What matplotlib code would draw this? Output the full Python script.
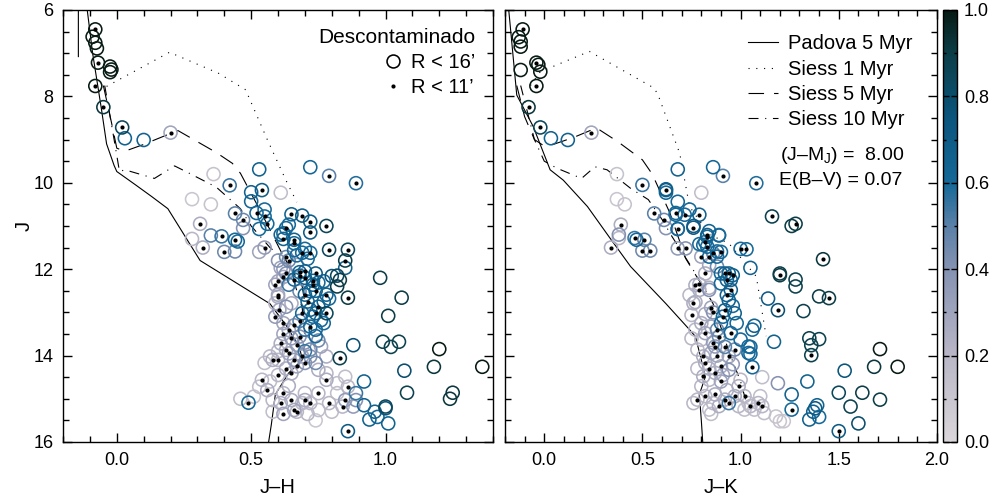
import numpy as np
import matplotlib
matplotlib.use('Agg')
import matplotlib.pyplot as plt
from matplotlib.colors import LinearSegmentedColormap, Normalize
from matplotlib.lines import Line2D
from matplotlib.ticker import MultipleLocator
from matplotlib.cm import ScalarMappable

plt.rcParams['font.family'] = ['Liberation Sans', 'DejaVu Sans']
plt.rcParams['mathtext.fontset'] = 'custom'
plt.rcParams['mathtext.rm'] = 'Liberation Sans'
plt.rcParams['mathtext.it'] = 'Liberation Sans'

# ---------------- J x (J-H) ----------------
jh_col = [
    -0.08, -0.09, -0.08, -0.074, -0.07, -0.025, -0.02, -0.025, -0.08, -0.05,
    0.02, 0.03, 0.10, 0.20, 0.36, 0.53, 0.72, 0.79, 0.89, 0.42,
    0.28, 0.35, 0.50, 0.50, 0.54, 0.61, 0.44, 0.47, 0.47, 0.52,
    0.55, 0.55, 0.53, 0.56, 0.65, 0.69, 0.72, 0.72, 0.78, 0.63,
    0.61, 0.64, 0.31, 0.28, 0.35, 0.39, 0.32, 0.40, 0.44, 0.45,
    0.44, 0.53, 0.55, 0.66, 0.66, 0.69, 0.72, 0.79, 0.86, 0.85,
    0.85, 0.82, 0.83, 0.82, 0.86, 0.78, 0.79, 0.74, 0.73, 0.74,
    0.70, 0.68, 0.66, 0.64, 0.60, 0.61, 0.59, 0.62, 0.64, 0.67,
    0.98, 1.06, 1.01, 0.99, 1.02, 1.05, 0.88, 0.83, 1.20, 1.36,
    1.18, 1.07, 1.08, 1.25, 1.24, 0.92, 0.92, 0.96, 0.94, 0.97,
    1.00, 1.00, 1.01, 0.86, 0.89, 0.49, 0.46,
    0.62, 0.62, 0.66, 0.67, 0.70, 0.71, 0.63, 0.62, 0.63, 0.60,
    0.68, 0.70, 0.73, 0.75, 0.77, 0.78, 0.72, 0.70, 0.60, 0.68, 0.80,
    0.605, 0.59, 0.63, 0.65, 0.60, 0.69, 0.72, 0.74, 0.75, 0.76,
    0.72, 0.70, 0.74, 0.68, 0.64, 0.62, 0.59, 0.74, 0.75, 0.70,
    0.72, 0.76, 0.61, 0.63, 0.57, 0.58, 0.55, 0.54, 0.53, 0.51,
    0.56, 0.58, 0.62, 0.65, 0.66, 0.69, 0.65, 0.67, 0.70, 0.69,
    0.72, 0.74, 0.75, 0.78, 0.78, 0.78, 0.82, 0.85, 0.86, 0.82,
    0.75, 0.72, 0.70, 0.75, 0.74, 0.79, 0.85, 0.88, 0.89, 0.84,
    0.67, 0.70, 0.61,
    0.62, 0.65, 0.66, 0.64, 0.66, 0.63, 0.60, 0.68, 0.67, 0.60,
    0.57, 0.64, 0.58, 0.62, 0.71, 0.80, 0.60, 0.70, 0.73, 0.77, 0.77, 0.71,
]
jh_mag = [
    6.45, 6.62, 6.76, 6.89, 7.22, 7.31, 7.38, 7.44, 7.76, 8.25,
    8.72, 8.97, 9.01, 8.84, 9.80, 9.69, 9.64, 9.84, 10.01, 10.06,
    10.38, 10.50, 10.22, 10.43, 10.17, 10.23, 10.71, 10.86, 11.05, 10.70,
    10.62, 10.78, 11.07, 10.95, 10.73, 10.76, 10.90, 11.15, 11.00, 11.05,
    11.20, 10.97, 10.95, 11.30, 11.22, 11.24, 11.50, 11.60, 11.32, 11.36,
    11.59, 11.60, 11.50, 11.40, 11.56, 11.62, 11.62, 11.55, 11.55, 11.80,
    11.97, 12.15, 12.25, 12.40, 12.66, 13.02, 12.68, 12.50, 12.27, 12.10,
    12.05, 12.15, 12.24, 12.36, 11.80, 11.97, 12.36, 12.18, 11.80, 11.90,
    12.20, 12.66, 13.08, 13.68, 13.80, 13.68, 13.76, 14.06, 13.85, 14.26,
    14.26, 14.35, 14.86, 14.86, 15.00, 14.60, 15.15, 15.30, 15.48, 15.42,
    15.22, 15.18, 15.57, 15.75, 14.87, 15.09, 15.00,
    11.17, 11.30, 11.32, 11.68, 11.53, 11.76, 11.72, 12.00, 12.10, 12.28,
    12.07, 12.20, 12.36, 12.31, 12.28, 12.59, 12.51, 12.59, 12.59, 12.51, 12.16,
    12.94, 12.79, 12.87, 12.79, 12.64, 13.02, 12.94, 13.02, 12.87, 13.18,
    13.33, 13.40, 13.40, 13.56, 13.41, 13.25, 13.10, 13.55, 13.65, 13.70,
    13.86, 13.79, 13.72, 13.87, 14.02, 14.10, 14.17, 14.56, 14.72, 14.95,
    14.80, 15.03, 14.87, 15.03, 15.26, 15.10, 14.41, 14.25, 14.17, 14.02,
    14.02, 14.17, 14.33, 14.41, 14.02, 14.56, 14.64, 14.49, 14.72, 14.87,
    14.87, 15.10, 15.03, 15.26, 15.50, 15.10, 15.03, 15.18, 15.03, 15.18,
    15.30, 14.87, 15.10,
    13.50, 13.60, 13.30, 13.95, 14.10, 14.30, 14.45, 13.20, 13.75, 13.90,
    14.60, 14.70, 15.30, 15.35, 15.35, 15.30, 14.10, 13.90, 13.10, 12.75, 13.25, 12.75,
]
jh_prob = [
    1, 1, 1, 1, 1, 1, 1, 1, 1, 0.92,
    0.85, 0.65, 0.65, 0.3, 0.12, 0.65, 0.62, 0.5, 0.58, 0.55,
    0.1, 0.12, 0.65, 0.62, 0.68, 0.15, 0.5, 0.45, 0.4, 0.62,
    0.6, 0.6, 0.6, 0.6, 0.65, 0.7, 0.7, 0.7, 0.85, 0.6,
    0.65, 0.6, 0.25, 0.2, 0.5, 0.55, 0.25, 0.45, 0.6, 0.6,
    0.45, 0.3, 0.35, 0.6, 0.6, 0.6, 0.6, 0.85, 0.85, 0.9,
    0.65, 0.85, 0.9, 0.9, 0.9, 0.85, 0.6, 0.65, 0.65, 0.7,
    0.65, 0.65, 0.6, 0.55, 0.4, 0.3, 0.3, 0.3, 0.45, 0.3,
    0.9, 0.9, 0.9, 0.88, 0.88, 0.88, 0.78, 0.88, 1, 1,
    0.92, 0.8, 0.88, 0.92, 0.92, 0.65, 0.65, 0.65, 0.65, 0.6,
    0.75, 0.85, 0.65, 0.7, 0.55, 0.6, 0.15,
    0.65, 0.65, 0.65, 0.6, 0.6, 0.6, 0.45, 0.35, 0.4, 0.3,
    0.6, 0.65, 0.65, 0.6, 0.6, 0.65, 0.6, 0.65, 0.3, 0.45, 0.75,
    0.3, 0.2, 0.4, 0.25, 0.25, 0.6, 0.65, 0.65, 0.65, 0.6,
    0.6, 0.55, 0.6, 0.4, 0.3, 0.3, 0.35, 0.6, 0.45, 0.4,
    0.45, 0.3, 0.25, 0.25, 0.2, 0.25, 0.15, 0.2, 0.15, 0.12,
    0.25, 0.2, 0.2, 0.25, 0.3, 0.2, 0.25, 0.3, 0.4, 0.3,
    0.4, 0.45, 0.25, 0.2, 0.25, 0.25, 0.15, 0.15, 0.2, 0.15,
    0.2, 0.2, 0.25, 0.15, 0.1, 0.2, 0.35, 0.35, 0.4, 0.2,
    0.2, 0.2, 0.25,
    0.3, 0.35, 0.4, 0.3, 0.35, 0.25, 0.2, 0.5, 0.35, 0.2,
    0.15, 0.25, 0.15, 0.3, 0.2, 0.15, 0.2, 0.55, 0.6, 0.65, 0.6, 0.65,
]
# 1 = also inside R < 11'
jh_core = [
    1, 0, 0, 0, 1, 0, 0, 0, 1, 1,
    1, 0, 0, 1, 0, 0, 0, 1, 1, 1,
    0, 0, 0, 0, 1, 0, 1, 1, 0, 1,
    0, 1, 0, 1, 1, 1, 1, 1, 1, 1,
    0, 0, 1, 0, 0, 1, 1, 1, 1, 0,
    0, 0, 1, 1, 0, 1, 1, 1, 1, 1,
    0, 0, 0, 0, 1, 1, 0, 1, 1, 1,
    1, 1, 1, 0, 0, 0, 1, 1, 1, 0,
    0, 0, 0, 0, 0, 0, 0, 1, 0, 0,
    0, 0, 0, 0, 0, 0, 0, 0, 0, 0,
    0, 0, 0, 1, 0, 1, 0,
    0, 1, 1, 0, 0, 0, 1, 0, 1, 1,
    1, 1, 1, 0, 0, 1, 0, 1, 1, 0, 0,
    1, 0, 0, 0, 1, 1, 0, 1, 1, 0,
    1, 0, 0, 1, 1, 1, 1, 0, 0, 0,
    0, 0, 1, 1, 0, 1, 0, 1, 0, 0,
    1, 0, 1, 1, 1, 0, 1, 1, 1, 1,
    0, 0, 0, 0, 0, 1, 0, 0, 1, 0,
    1, 1, 1, 0, 0, 1, 1, 0, 0, 1,
    1, 0, 1,
    1, 1, 1, 1, 1, 1, 1, 1, 1, 0,
    0, 0, 0, 1, 0, 0, 1, 0, 0, 0, 0, 1,
]

# ---------------- J x (J-K) ----------------
jk_col = [
    -0.11, -0.13, -0.12, -0.12, -0.04, -0.03, -0.02, -0.12, -0.04, -0.08,
    -0.02, 0.034, 0.12, 0.24, 0.37, 0.68, 0.86, 0.91, 1.08, 0.50,
    0.37, 0.41, 0.62, 0.62, 0.62, 0.80, 0.56, 0.61, 0.62, 0.68,
    0.67, 0.67, 0.68, 0.715, 0.74, 0.79, 0.76, 0.76, 0.68, 0.84,
    0.83, 0.89, 0.39, 0.38, 0.38, 0.46, 0.51, 0.50, 0.54, 0.47,
    0.34, 0.68, 0.79, 0.83, 0.88, 1.00, 1.03, 1.16, 1.26, 1.28,
    1.05, 1.42, 1.20, 1.20, 1.28, 1.28, 1.40, 1.45, 1.14, 1.19,
    1.32, 1.07, 1.17, 1.35, 1.36, 1.40, 1.36, 1.71, 1.80, 1.68,
    1.53, 1.71, 1.62, 1.50, 1.56, 1.60, 1.50, 1.34, 1.39, 1.37,
    1.35, 1.40, 1.38, 1.26, 1.26, 1.19, 1.11, 1.06, 1.05, 1.05,
    1.20, 1.22, 1.12, 1.18,
    0.77, 0.76, 0.75, 0.77, 0.84, 0.85, 0.82, 0.80, 0.77, 0.80,
    0.82, 0.85, 0.78, 0.81, 0.82, 0.85, 0.87, 0.89, 0.90, 0.92,
    0.94, 0.95, 0.95, 0.90, 0.92, 0.97, 0.98, 0.95, 0.97, 0.94,
    0.90, 0.87, 0.84, 0.81, 0.80, 0.78, 0.82, 0.86, 0.89, 0.92,
    0.94, 0.97, 0.99, 1.00, 1.02, 1.04, 1.05, 1.09, 1.10, 1.11,
    1.07, 1.02, 0.99, 0.94, 1.04, 1.04, 1.06, 1.00, 0.79, 0.88,
    0.83, 0.82, 0.81, 0.89, 0.90, 0.86, 0.84, 0.80, 0.84, 0.82,
    0.88, 0.90, 0.94, 0.96, 0.93, 0.79, 0.84, 0.72,
    0.86, 0.88, 0.86, 0.88, 0.84, 0.90, 0.87, 0.93, 0.84, 0.76,
    0.92, 0.91, 0.93, 0.96, 0.78, 0.75, 0.74, 0.91, 0.96, 0.85,
]
jk_mag = [
    6.45, 6.63, 6.73, 6.85, 7.22, 7.27, 7.43, 7.39, 7.76, 8.25,
    8.72, 8.97, 9.01, 8.84, 9.80, 9.69, 9.64, 9.84, 10.01, 10.05,
    10.38, 10.50, 10.15, 10.23, 10.17, 10.23, 10.71, 10.86, 11.05, 10.44,
    10.74, 10.70, 11.07, 10.74, 10.62, 10.74, 11.00, 11.04, 11.07, 11.12,
    11.25, 11.22, 10.97, 11.20, 11.28, 11.28, 11.32, 11.57, 11.57, 11.32,
    11.50, 11.52, 11.42, 11.48, 11.59, 11.53, 11.54, 10.78, 11.00, 10.95,
    11.97, 11.77, 12.14, 12.10, 12.24, 12.40, 12.63, 12.67, 12.68, 12.95,
    12.97, 13.31, 13.68, 13.60, 13.76, 13.62, 13.99, 13.85, 14.26, 14.26,
    14.35, 15.02, 14.86, 14.86, 15.18, 15.57, 15.75, 14.60, 15.15, 15.30,
    15.48, 15.42, 15.22, 15.25, 14.90, 14.64, 14.50, 14.27, 13.96, 13.80,
    15.52, 15.52, 15.33, 15.41,
    12.37, 12.79, 13.06, 12.76, 12.48, 12.89, 13.04, 13.25, 13.40, 13.63,
    13.48, 13.33, 13.86, 14.02, 14.17, 13.94, 13.79, 13.56, 13.25, 12.95,
    12.72, 12.48, 12.25, 12.33, 12.10, 13.02, 13.25, 13.48, 13.86, 14.02,
    14.25, 14.40, 14.56, 14.48, 14.71, 15.02, 14.94, 15.10, 15.17, 15.02,
    15.10, 14.94, 14.71, 14.56, 14.94, 15.10, 15.17, 15.10, 14.94, 15.17,
    15.25, 15.25, 15.17, 14.33, 13.94, 13.79, 13.40, 13.63, 12.48, 11.71,
    11.21, 11.37, 11.44, 11.21, 11.60, 11.63, 11.71, 11.71, 11.90, 12.10,
    11.94, 12.10, 12.10, 12.14, 12.25, 12.35, 12.43, 11.52,
    13.00, 13.40, 13.70, 14.00, 14.30, 14.60, 14.90, 14.80, 15.25, 15.10,
    13.80, 13.10, 12.60, 12.85, 14.30, 13.60, 12.60, 14.45, 14.20, 15.35,
]
jk_prob = [
    1, 1, 1, 1, 1, 1, 1, 1, 1, 0.92,
    0.85, 0.65, 0.65, 0.3, 0.12, 0.65, 0.62, 0.5, 0.58, 0.55,
    0.1, 0.12, 0.65, 0.62, 0.68, 0.15, 0.5, 0.45, 0.4, 0.62,
    0.6, 0.6, 0.6, 0.6, 0.6, 0.65, 0.7, 0.7, 0.6, 0.65,
    0.6, 0.6, 0.25, 0.4, 0.2, 0.55, 0.5, 0.45, 0.45, 0.6,
    0.25, 0.35, 0.6, 0.6, 0.6, 0.6, 0.6, 0.88, 0.9, 0.9,
    0.65, 0.92, 0.9, 0.9, 0.88, 0.88, 0.9, 0.9, 0.7, 0.78,
    0.88, 0.65, 0.65, 0.88, 0.88, 0.88, 0.88, 1, 1, 0.92,
    0.75, 0.9, 0.9, 0.85, 0.88, 0.8, 0.7, 0.65, 0.65, 0.65,
    0.65, 0.6, 0.7, 0.6, 0.65, 0.4, 0.15, 0.6, 0.6, 0.6,
    0.1, 0.1, 0.15, 0.12,
    0.25, 0.25, 0.2, 0.25, 0.4, 0.3, 0.25, 0.25, 0.2, 0.2,
    0.3, 0.3, 0.2, 0.25, 0.25, 0.3, 0.35, 0.45, 0.6, 0.65,
    0.65, 0.65, 0.65, 0.6, 0.65, 0.65, 0.6, 0.6, 0.45, 0.3,
    0.25, 0.25, 0.2, 0.25, 0.2, 0.2, 0.2, 0.2, 0.25, 0.25,
    0.55, 0.25, 0.25, 0.2, 0.2, 0.15, 0.2, 0.2, 0.15, 0.2,
    0.15, 0.15, 0.2, 0.4, 0.6, 0.6, 0.6, 0.6, 0.25, 0.6,
    0.65, 0.6, 0.6, 0.6, 0.6, 0.45, 0.6, 0.3, 0.3, 0.25,
    0.45, 0.6, 0.65, 0.65, 0.65, 0.25, 0.25, 0.4,
    0.4, 0.45, 0.35, 0.3, 0.25, 0.3, 0.25, 0.25, 0.15, 0.2,
    0.5, 0.6, 0.65, 0.6, 0.2, 0.2, 0.2, 0.3, 0.35, 0.15,
]
jk_core = [
    1, 0, 0, 0, 1, 0, 0, 0, 1, 1,
    1, 0, 0, 1, 0, 0, 0, 1, 1, 1,
    0, 0, 0, 0, 1, 0, 1, 1, 0, 0,
    0, 1, 0, 1, 0, 1, 0, 1, 1, 0,
    1, 0, 1, 0, 0, 1, 1, 1, 1, 0,
    1, 1, 0, 1, 0, 1, 1, 1, 0, 1,
    0, 1, 1, 0, 0, 0, 0, 1, 0, 1,
    0, 0, 0, 0, 0, 0, 1, 0, 0, 0,
    0, 0, 0, 0, 0, 0, 1, 0, 0, 0,
    0, 0, 0, 1, 0, 0, 0, 1, 0, 0,
    0, 0, 0, 0,
    1, 1, 1, 0, 0, 1, 0, 1, 0, 0,
    1, 0, 0, 1, 1, 0, 1, 1, 0, 1,
    0, 1, 0, 0, 1, 0, 0, 1, 1, 1,
    1, 1, 0, 1, 0, 1, 1, 0, 1, 1,
    1, 1, 1, 0, 1, 0, 1, 1, 0, 1,
    0, 0, 0, 0, 0, 0, 0, 0, 1, 0,
    1, 1, 0, 0, 1, 1, 1, 1, 0, 1,
    0, 0, 1, 1, 1, 1, 0, 1,
    1, 1, 1, 1, 1, 1, 1, 0, 0, 0,
    1, 1, 1, 0, 0, 0, 0, 0, 0, 0,
]

# ---------------- isocronas ----------------
pad_jh = [-0.143, -0.143, -0.12, -0.09, -0.057, -0.038, -0.01, 0.0, 0.07, 0.13,
          0.19, 0.24, 0.31, 0.44, 0.57, 0.63, 0.68, 0.69, 0.64, 0.59, 0.575, 0.56]
pad_jh_j = [7.08, 5.5, 5.5, 7.0, 8.3, 9.1, 9.6, 9.74, 10.05, 10.32,
            10.6, 11.1, 11.8, 12.3, 12.8, 13.3, 13.8, 14.1, 14.4, 14.9, 15.6, 16.2]
s1_jh = [-0.038, 0.196, 0.38, 0.48, 0.49, 0.56, 0.63, 0.67]
s1_jh_j = [7.77, 6.98, 7.47, 7.85, 8.0, 9.0, 9.95, 10.45]
s5_jh = [-0.05, -0.02, 0.0, 0.03, 0.097, 0.227, 0.37, 0.43, 0.46, 0.53, 0.62, 0.66, 0.69, 0.70]
s5_jh_j = [7.75, 8.6, 9.2, 9.27, 9.12, 8.79, 9.3, 9.55, 9.78, 10.6, 11.7, 12.1, 12.4, 12.8]
s10_jh = [-0.045, -0.01, 0.01, 0.03, 0.14, 0.215, 0.26, 0.37, 0.46, 0.50, 0.57, 0.63, 0.66, 0.69, 0.70]
s10_jh_j = [7.75, 9.0, 9.74, 9.7, 9.9, 9.61, 9.75, 10.1, 10.6, 11.0, 11.5, 11.8, 12.3, 12.9, 13.5]

pad_jk = [-0.185, -0.14, -0.056, 0.03, 0.097, 0.22, 0.33, 0.44, 0.62, 0.74, 0.77,
          0.80, 0.82, 0.79, 0.80, 0.81]
pad_jk_j = [5.8, 7.97, 8.7, 9.7, 9.94, 10.55, 11.25, 11.94, 12.8, 13.4, 13.56,
            14.1, 14.5, 14.9, 15.5, 16.2]
s1_jk = [-0.07, -0.02, 0.23, 0.56, 0.58, 0.69, 0.74, 0.84, 0.94, 1.08, 1.13]
s1_jk_j = [7.75, 7.43, 6.96, 7.81, 7.97, 9.32, 10.55, 11.2, 11.4, 12.17, 13.55]
s5_jk = [-0.14, -0.1, -0.05, 0.0, 0.054, 0.15, 0.266, 0.375, 0.5, 0.55, 0.60, 0.64, 0.72, 0.78, 0.84]
s5_jk_j = [7.75, 8.47, 9.0, 9.15, 9.1, 8.95, 8.73, 9.05, 9.47, 9.8, 10.3, 10.7, 11.75, 12.2, 12.6]
s10_jk = [-0.12, -0.05, 0.0, 0.063, 0.19, 0.258, 0.32, 0.44, 0.53, 0.60, 0.65, 0.75, 0.86, 0.94, 1.0, 1.03]
s10_jk_j = [7.75, 9.0, 9.5, 9.66, 9.9, 9.63, 9.7, 10.13, 10.39, 10.85, 11.24, 11.95, 12.8, 13.9, 14.6, 15.1]

# mapa de cores da probabilidade de pertinencia
cmap = LinearSegmentedColormap.from_list('memb', [
    (0.0, '#dad6da'), (0.2, '#b9b6c6'), (0.4, '#8592b2'), (0.5, '#5a80a8'),
    (0.6, '#156898'), (0.75, '#0b557e'), (0.9, '#0c3e48'), (1.0, '#071a14')])
norm = Normalize(0, 1)

FS = 13      # rotulos dos ticks
FS_LEG = 14.5


def draw_stars(ax, col, mag, prob, core):
    col, mag, prob, core = map(np.asarray, (col, mag, prob, core))
    assert len(col) == len(mag) == len(prob) == len(core)
    order = np.argsort(prob, kind='stable')
    ax.scatter(col[order], mag[order], s=88, facecolors='none',
               edgecolors=cmap(norm(prob[order])), linewidths=1.15, zorder=3)
    m = core.astype(bool)
    ax.scatter(col[m], mag[m], s=9, c='k', lw=0, zorder=4)


def style_axis(ax, xmaj):
    ax.set_ylim(16, 6)
    ax.xaxis.set_major_locator(MultipleLocator(xmaj))
    ax.xaxis.set_minor_locator(MultipleLocator(0.1))
    ax.yaxis.set_major_locator(MultipleLocator(2))
    ax.yaxis.set_minor_locator(MultipleLocator(0.5))
    ax.tick_params(which='both', direction='in', top=True, right=True,
                   labelsize=FS, width=1.0)
    ax.tick_params(which='major', length=6.5, pad=7)
    ax.tick_params(which='minor', length=4.5)
    for sp in ax.spines.values():
        sp.set_linewidth(1.0)


fig = plt.figure(figsize=(9.96, 4.97), dpi=100)
ax1 = fig.add_axes([0.0633, 0.1107, 0.4317, 0.8693])
ax2 = fig.add_axes([0.507, 0.1107, 0.4337, 0.8693])
cax = fig.add_axes([0.9468, 0.1107, 0.0141, 0.8693])

lw = 0.8
for ax, iso in ((ax1, (pad_jh, pad_jh_j, s1_jh, s1_jh_j, s5_jh, s5_jh_j, s10_jh, s10_jh_j)),
                (ax2, (pad_jk, pad_jk_j, s1_jk, s1_jk_j, s5_jk, s5_jk_j, s10_jk, s10_jk_j))):
    ax.plot(iso[0], iso[1], color='k', lw=lw, label='Padova 5 Myr')
    ax.plot(iso[2], iso[3], color='k', lw=lw, ls=(0, (1, 6)), label='Siess 1 Myr')
    ax.plot(iso[4], iso[5], color='k', lw=lw, ls=(0, (14, 9)), label='Siess 5 Myr')
    ax.plot(iso[6], iso[7], color='k', lw=lw, ls=(0, (9, 6, 1, 6)), label='Siess 10 Myr')

draw_stars(ax1, jh_col, jh_mag, jh_prob, jh_core)
draw_stars(ax2, jk_col, jk_mag, jk_prob, jk_core)

ax1.set_xlim(-0.2, 1.4)
ax2.set_xlim(-0.2, 2.0)
style_axis(ax1, 0.5)
style_axis(ax2, 0.5)
ax2.set_yticklabels([])

ax1.set_xlabel('J–H', fontsize=FS_LEG, labelpad=7)
ax2.set_xlabel('J–K', fontsize=FS_LEG, labelpad=7)
ax1.set_ylabel('J', fontsize=FS_LEG, labelpad=0)

# legenda painel esquerdo
h_circ = Line2D([], [], ls='none', marker='o', ms=9.3, mfc='none', mec='k', mew=1.15)
h_dot = Line2D([], [], ls='none', marker='o', ms=3.0, mfc='k', mec='k', mew=0)
ax1.legend([h_circ, h_dot], ['R < 16’', 'R < 11’'], loc='upper right',
           title='Descontaminado', alignment='right', frameon=False,
           fontsize=FS_LEG, title_fontsize=15, handlelength=1.0,
           handletextpad=0.4, labelspacing=0.3, borderaxespad=0.5)

# legenda painel direito
ax2.legend(loc='upper right', frameon=False, fontsize=FS_LEG, handlelength=1.5,
           handletextpad=0.5, labelspacing=0.32, borderaxespad=0.8)
ax2.text(0.637, 0.664, r'(J–M$_{\rm J}$) =  8.00', transform=ax2.transAxes,
         fontsize=14, va='center', ha='left')
ax2.text(0.634, 0.606, 'E(B–V) = 0.07', transform=ax2.transAxes,
         fontsize=14, va='center', ha='left')

# barra de cores
cb = fig.colorbar(ScalarMappable(norm=norm, cmap=cmap), cax=cax)
cb.set_ticks([0.0, 0.2, 0.4, 0.6, 0.8, 1.0])
cb.ax.yaxis.set_minor_locator(MultipleLocator(0.1))
cb.ax.tick_params(which='both', direction='in', left=True, right=True,
                  labelsize=FS, width=1.0)
cb.ax.tick_params(which='major', length=4, pad=5)
cb.ax.tick_params(which='minor', length=2.5)
cb.outline.set_linewidth(1.0)

fig.savefig('out.png', dpi=100)
